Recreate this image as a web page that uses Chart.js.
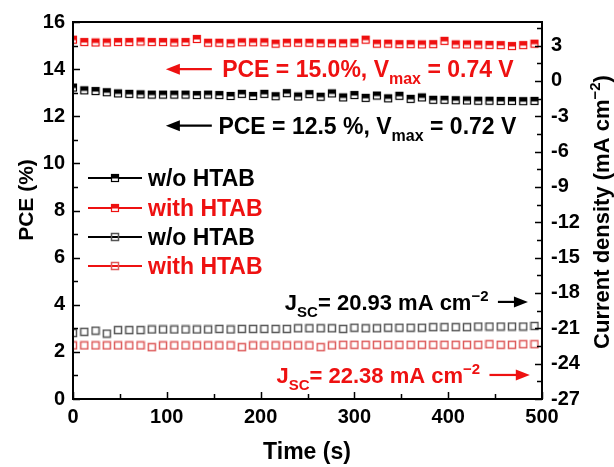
<!DOCTYPE html>
<html><head><meta charset="utf-8">
<script src="https://cdn.jsdelivr.net/npm/chart.js@4.4.1/dist/chart.umd.min.js"></script>
<style>html,body{margin:0;padding:0;background:#fff}#wrap{width:614px;height:467px}</style>
</head><body><div id="wrap"><canvas id="c" width="614" height="467"></canvas></div>
<script>
const TIME = [0,12,24,36,48,60,72,84,96,108,120,132,144,156,168,180,192,204,216,228,240,252,264,276,288,300,312,324,336,348,360,372,384,396,408,420,432,444,456,468,480,492];
const PCE_WITHOUT = [13.22,13.10,13.07,13.02,12.97,12.95,12.93,12.92,12.92,12.92,12.92,12.90,12.92,12.90,12.86,12.95,12.86,12.95,12.85,12.98,12.84,12.94,12.83,12.97,12.80,12.90,12.78,12.88,12.76,12.87,12.74,12.80,12.70,12.70,12.68,12.67,12.66,12.66,12.65,12.65,12.64,12.65];
const PCE_WITH = [15.25,15.15,15.13,15.13,15.15,15.15,15.17,15.15,15.15,15.13,15.15,15.28,15.12,15.12,15.10,15.14,15.14,15.14,15.08,15.12,15.12,15.12,15.10,15.10,15.10,15.12,15.25,15.08,15.08,15.06,15.06,15.05,15.06,15.20,15.05,15.05,15.04,15.03,15.02,14.98,15.02,15.08];
const J_WITHOUT = [-21.4,-21.3,-21.2,-21.45,-21.15,-21.15,-21.15,-21.1,-21.1,-21.1,-21.1,-21.1,-21.1,-21.05,-21.1,-21.05,-21.05,-21.05,-21.05,-21.05,-21.0,-21.0,-21.0,-21.0,-21.05,-20.95,-21.0,-21.0,-20.95,-20.95,-20.95,-20.95,-20.9,-20.9,-20.9,-20.9,-20.85,-20.85,-20.85,-20.85,-20.85,-20.8];
const J_WITH = [-22.45,-22.45,-22.45,-22.45,-22.45,-22.45,-22.45,-22.6,-22.45,-22.45,-22.45,-22.45,-22.45,-22.45,-22.45,-22.6,-22.45,-22.45,-22.45,-22.45,-22.45,-22.45,-22.6,-22.45,-22.4,-22.4,-22.4,-22.4,-22.4,-22.4,-22.4,-22.4,-22.4,-22.4,-22.4,-22.4,-22.4,-22.35,-22.4,-22.4,-22.35,-22.35];
const LABELS = ['w/o HTAB','with HTAB','w/o HTAB','with HTAB'];
const X_TICKS = [0,100,200,300,400,500];
const Y_TICKS = [0,2,4,6,8,10,12,14,16];
const Y2_TICKS = [-27,-24,-21,-18,-15,-12,-9,-6,-3,0,3];

const RED = '#ee1111', BLACK = '#000000';
const FONT = '"Liberation Sans", Arial, sans-serif';

function halfSquare(color){
  const c = document.createElement('canvas'); c.width = 10; c.height = 10;
  const g = c.getContext('2d');
  g.fillStyle = '#fff'; g.fillRect(1,1,8,8);
  g.fillStyle = color; g.fillRect(1,1,8,4.5);
  g.strokeStyle = color; g.lineWidth = 1.2; g.strokeRect(1.5,1.5,7,7);
  return c;
}
function openSquare(color){
  const c = document.createElement('canvas'); c.width = 10; c.height = 10;
  const g = c.getContext('2d');
  g.strokeStyle = color; g.lineWidth = 1.5; g.strokeRect(1.5,1.5,7,7);
  return c;
}
const MARKERS = [halfSquare(BLACK), halfSquare(RED), openSquare('#555555'), openSquare('#dd5a5a')];
const LCOLORS = [BLACK, RED, BLACK, RED];

function pts(ys){ return TIME.map((t,i)=>({x:t,y:ys[i]})); }

function richWidth(ctx, parts, size){
  let w = 0;
  for (const [t,k] of parts){
    const s = k==='n'? size : Math.round(size*0.68);
    ctx.font = 'bold '+s+'px '+FONT;
    w += ctx.measureText(t).width;
  }
  return w;
}
function drawRich(ctx, x, y, parts, size, color){
  ctx.fillStyle = color; ctx.textBaseline = 'alphabetic'; ctx.textAlign = 'left';
  let cx = x;
  for (const [t,k] of parts){
    const s = k==='n'? size : Math.round(size*0.68);
    ctx.font = 'bold '+s+'px '+FONT;
    const dy = k==='sub'? size*0.3 : (k==='sup'? -size*0.42 : 0);
    ctx.fillText(t, cx, y+dy);
    cx += ctx.measureText(t).width;
  }
}
function arrow(ctx, x1, x2, y, color, headLeft){
  ctx.save();
  ctx.strokeStyle = color; ctx.fillStyle = color; ctx.lineWidth = 2.2;
  const hl = 14, hh = 5.5;
  ctx.beginPath();
  if (headLeft){ ctx.moveTo(x1+hl-2,y); ctx.lineTo(x2,y); }
  else { ctx.moveTo(x1,y); ctx.lineTo(x2-hl+2,y); }
  ctx.stroke();
  ctx.beginPath();
  if (headLeft){ ctx.moveTo(x1,y); ctx.lineTo(x1+hl,y-hh); ctx.lineTo(x1+hl,y+hh); }
  else { ctx.moveTo(x2,y); ctx.lineTo(x2-hl,y-hh); ctx.lineTo(x2-hl,y+hh); }
  ctx.closePath(); ctx.fill();
  ctx.restore();
}

const decor = {
  id:'decor',
  afterDraw(chart){
    const ctx = chart.ctx, a = chart.chartArea;
    const xs = chart.scales.x, ys = chart.scales.y, y2 = chart.scales.y2;
    ctx.save();
    // frame
    ctx.strokeStyle = '#000'; ctx.lineWidth = 2;
    ctx.strokeRect(a.left, a.top, a.right-a.left, a.bottom-a.top);
    ctx.lineWidth = 1.5;
    ctx.beginPath();
    for (let v=0; v<=500; v+=50){
      const p = Math.round(xs.getPixelForValue(v))+0.5;
      const L = (v%100===0)? 7 : 5;
      ctx.moveTo(p, a.bottom); ctx.lineTo(p, a.bottom-L);
    }
    for (let v=0; v<=16; v+=1){
      const p = Math.round(ys.getPixelForValue(v))+0.5;
      const L = (v%2===0)? 7 : 5;
      ctx.moveTo(a.left, p); ctx.lineTo(a.left+L, p);
    }
    for (let v=-27; v<=5; v+=1.5){
      const p = Math.round(y2.getPixelForValue(v))+0.5;
      const L = (Math.abs(v%3)<1e-6)? 7 : 5;
      ctx.moveTo(a.right, p); ctx.lineTo(a.right-L, p);
    }
    ctx.stroke();

    // axis titles
    ctx.fillStyle = '#000';
    ctx.font = 'bold 23px '+FONT; ctx.textAlign='center'; ctx.textBaseline='middle';
    ctx.fillText('Time (s)', 307, 453);
    ctx.font = 'bold 21px '+FONT;
    ctx.save(); ctx.translate(27, 200); ctx.rotate(-Math.PI/2);
    ctx.fillText('PCE (%)', 0, 0); ctx.restore();
    const rparts = [['Current density (mA cm','n'],['\u22122','sup'],[')','n']];
    const rw = richWidth(ctx, rparts, 22);
    ctx.save(); ctx.translate(601, 212); ctx.rotate(-Math.PI/2);
    drawRich(ctx, -rw/2, 8, rparts, 22, '#000'); ctx.restore();

    // annotations
    const X = v=>xs.getPixelForValue(v), Y = v=>ys.getPixelForValue(v);
    arrow(ctx, X(99), X(148), Y(14.0), RED, true);
    drawRich(ctx, X(159), Y(14.0)+8, [['PCE = 15.0%, V','n'],['max','sub'],[' = 0.74 V','n']], 23, RED);
    arrow(ctx, X(99), X(148), Y(11.6), BLACK, true);
    drawRich(ctx, X(155), Y(11.6)+8, [['PCE = 12.5 %, V','n'],['max','sub'],[' = 0.72 V','n']], 23, BLACK);

    const jb = [['J','n'],['SC','sub'],['= 20.93 mA cm','n'],['\u22122','sup']];
    const jr = [['J','n'],['SC','sub'],['= 22.38 mA cm','n'],['\u22122','sup']];
    const wb = richWidth(ctx, jb, 22), wr = richWidth(ctx, jr, 22);
    arrow(ctx, X(453), X(485), Y(4.12), BLACK, false);
    drawRich(ctx, X(443)-wb, Y(4.12)+8, jb, 22, BLACK);
    arrow(ctx, X(444), X(487), Y(1.02), RED, false);
    drawRich(ctx, X(434)-wr, Y(1.02)+8, jr, 22, RED);

    // legend
    const rows = [178, 208, 237, 266];
    chart.data.datasets.forEach((ds,i)=>{
      const y = rows[i];
      ctx.strokeStyle = LCOLORS[i]; ctx.lineWidth = 2;
      ctx.beginPath(); ctx.moveTo(88, y); ctx.lineTo(142, y); ctx.stroke();
      ctx.drawImage(MARKERS[i], 115-5, y-5);
      ctx.fillStyle = LCOLORS[i]; ctx.font = 'bold 23px '+FONT;
      ctx.textAlign='left'; ctx.textBaseline='alphabetic';
      ctx.fillText(ds.label, 148, y+8);
    });
    ctx.restore();
  }
};

const tickFont = {family: FONT, size: 20, weight: 'bold'};
new Chart(document.getElementById('c'), {
  type: 'scatter',
  data: { datasets: [
    {label: LABELS[0], data: pts(PCE_WITHOUT), yAxisID:'y', pointStyle: MARKERS[0]},
    {label: LABELS[1], data: pts(PCE_WITH), yAxisID:'y', pointStyle: MARKERS[1]},
    {label: LABELS[2], data: pts(J_WITHOUT), yAxisID:'y2', pointStyle: MARKERS[2]},
    {label: LABELS[3], data: pts(J_WITH), yAxisID:'y2', pointStyle: MARKERS[3]},
  ]},
  options: {
    responsive: false, animation: false, devicePixelRatio: 1,
    layout: {padding: {top: 22, left: 0, right: 0, bottom: 0}},
    plugins: {legend: {display:false}, tooltip: {enabled:false}},
    scales: {
      x: {type:'linear', min:0, max:500, position:'bottom',
          grid:{display:false, drawTicks:false}, border:{display:false},
          afterBuildTicks: s=>{ s.ticks = X_TICKS.map(v=>({value:v})); },
          afterFit: s=>{ s.height = 68; },
          ticks:{font:tickFont, color:'#000', padding:6, maxRotation:0}},
      y: {min:0, max:16, position:'left',
          grid:{display:false, drawTicks:false}, border:{display:false},
          afterBuildTicks: s=>{ s.ticks = Y_TICKS.map(v=>({value:v})); },
          afterFit: s=>{ s.width = 73; },
          ticks:{font:tickFont, color:'#000', padding:8}},
      y2: {min:-27, max:5, position:'right',
          grid:{display:false, drawTicks:false}, border:{display:false},
          afterBuildTicks: s=>{ s.ticks = Y2_TICKS.map(v=>({value:v})); },
          afterFit: s=>{ s.width = 72; },
          ticks:{font:tickFont, color:'#000', padding:9}}
    }
  },
  plugins: [decor]
});
</script></body></html>
